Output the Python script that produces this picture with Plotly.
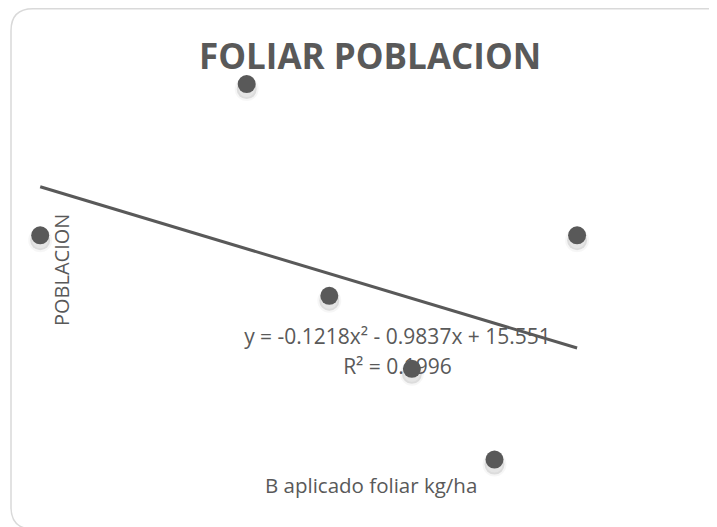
import numpy as np
import plotly.graph_objects as go

# ---- data ----
b_aplicado = [0.0, 0.5, 0.7, 0.9, 1.1, 1.3]      # B aplicado foliar kg/ha
poblacion = [14.0, 20.0, 11.6, 8.7, 5.1, 14.0]    # POBLACION
title_text = "FOLIAR POBLACION"
x_title = "B aplicado foliar kg/ha"
y_title = "POBLACION"
eq_text = "y = -0.1218x² - 0.9837x + 15.551"
r2_text = "R² = 0.1996"

# ---- layout constants ----
OFF = 8                 # page body margin
VW, VH = 717, 527       # viewport
W, H = VW - OFF, VH - OFF
GREY = "#595959"
FONT = "Open Sans"

# axis scale (viewport pixels)
X0_PX, X_PPU = 40.2, 413.0
Y0_PX, Y0_VAL, Y_PPU = 235.3, 14.0, 25.2


def xv(p):
    return (p - X0_PX) / X_PPU


def yv(p):
    return Y0_VAL - (p - Y0_PX) / Y_PPU


XR = [xv(OFF), xv(VW)]
YR = [yv(VH), yv(OFF)]
shadow_px = 5
d = shadow_px / Y_PPU


def fx(p):   # viewport px -> paper x
    return (p - OFF) / W


def fy(p):   # viewport px -> paper y
    return 1 - (p - OFF) / H


# trend line (least squares) through the data
coef = np.polyfit(b_aplicado, poblacion, 1)
x_line = np.array([min(b_aplicado), max(b_aplicado)])
y_line = np.polyval(coef, x_line)

fig = go.Figure()

# soft shadows (main y axis, shifted range)
fig.add_trace(go.Scatter(
    x=b_aplicado, y=poblacion, mode="markers", yaxis="y",
    marker=dict(size=20, color="rgba(0,0,0,0.10)",
                line=dict(width=4, color="rgba(0,0,0,0.035)")),
    hoverinfo="skip", showlegend=False))

# equation text (under line and markers)
fig.add_trace(go.Scatter(
    x=[xv(397.5), xv(397.5)], y=[yv(339), yv(369)], mode="text", yaxis="y2",
    text=[eq_text, r2_text], textposition="middle center",
    textfont=dict(family=FONT, size=21, color=GREY),
    hoverinfo="skip", showlegend=False))

# trend line
fig.add_trace(go.Scatter(
    x=x_line, y=y_line, mode="lines", yaxis="y2",
    line=dict(color=GREY, width=3),
    hoverinfo="skip", showlegend=False))

# markers
fig.add_trace(go.Scatter(
    x=b_aplicado, y=poblacion, mode="markers", yaxis="y2",
    marker=dict(size=18, color=GREY, line=dict(width=0)),
    showlegend=False))


# rounded border
def P(px, py):
    return f"{fx(px):.5f},{fy(py):.5f}"


L, T, R, B, r = 11, 8.8, 735, 529, 22
path = (f"M {P(L, T + r)} Q {P(L, T)} {P(L + r, T)} L {P(R - r, T)} "
        f"Q {P(R, T)} {P(R, T + r)} L {P(R, B - r)} Q {P(R, B)} {P(R - r, B)} "
        f"L {P(L + r, B)} Q {P(L, B)} {P(L, B - r)} Z")

fig.update_layout(
    width=W, height=H,
    margin=dict(l=0, r=0, t=0, b=0, pad=0),
    paper_bgcolor="white", plot_bgcolor="white",
    xaxis=dict(range=XR, visible=False, fixedrange=True),
    yaxis=dict(range=[YR[0] + d, YR[1] + d], visible=False, fixedrange=True),
    yaxis2=dict(range=YR, visible=False, overlaying="y", fixedrange=True),
    shapes=[dict(type="path", xref="paper", yref="paper", path=path,
                 line=dict(color="#d9d9d9", width=1.5), layer="below")],
    annotations=[
        dict(text=f"<b>{title_text}</b>", xref="paper", yref="paper",
             x=fx(370), y=fy(56), xanchor="center", yanchor="middle",
             showarrow=False, font=dict(family=FONT, size=35, color=GREY)),
        dict(text=x_title, xref="paper", yref="paper",
             x=fx(371), y=fy(485), xanchor="center", yanchor="middle",
             showarrow=False, font=dict(family=FONT, size=20.5, color=GREY)),
        dict(text=y_title, xref="paper", yref="paper", textangle=-90,
             x=fx(61), y=fy(270), xanchor="center", yanchor="middle",
             showarrow=False, font=dict(family=FONT, size=20, color=GREY)),
    ],
)

fig.write_html("out.html")
